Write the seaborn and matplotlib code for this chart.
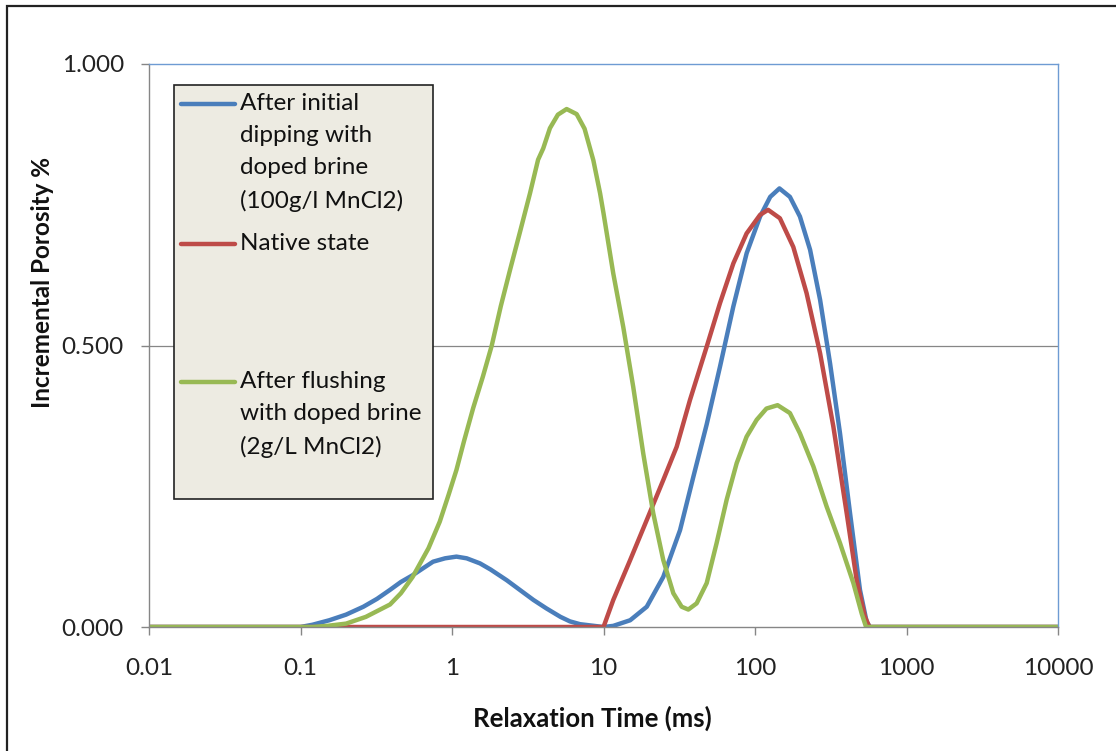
import matplotlib
matplotlib.use("Agg")
import matplotlib.pyplot as plt
from matplotlib.patches import Rectangle
from matplotlib.lines import Line2D
import seaborn as sns
import pandas as pd

# ---- data ----
blue_x = [0.01, 0.1, 0.12, 0.155, 0.2, 0.26, 0.32, 0.39, 0.46, 0.55, 0.65, 0.75, 0.9, 1.07,
          1.25, 1.53, 1.8, 2.3, 2.8, 3.45, 4.2, 5.2, 6, 7, 10,
          11.6, 15, 19.3, 24.8, 32, 39.2, 48, 58.7, 71.9, 88.1, 108, 126, 145, 170, 198,
          231, 269, 313, 364, 424, 493, 546, 574, 1000, 10000]
blue_y = [0, 0, 0.004, 0.012, 0.022, 0.036, 0.05, 0.066, 0.08, 0.092, 0.105, 0.116, 0.122,
          0.125, 0.122, 0.113, 0.102, 0.083, 0.066, 0.048, 0.033, 0.018, 0.01, 0.005, 0,
          0.002, 0.012, 0.036, 0.089, 0.172, 0.267, 0.36, 0.462, 0.569, 0.664, 0.729, 0.764,
          0.779, 0.764, 0.729, 0.670, 0.581, 0.468, 0.344, 0.202, 0.066, 0.009, 0, 0, 0]

red_x = [0.01, 0.2, 1, 10, 11.6, 15, 19.3, 24.8, 30.4, 37.2, 48, 58.7, 72, 88, 108, 122,
         146, 179, 219, 269, 329, 403, 469, 532, 569, 1000, 10000]
red_y = [0, 0, 0, 0, 0.048, 0.119, 0.19, 0.261, 0.32, 0.403, 0.498, 0.575, 0.646, 0.699,
         0.732, 0.741, 0.726, 0.675, 0.593, 0.486, 0.356, 0.202, 0.083, 0.018, 0, 0, 0]

green_x = [0.01, 0.12, 0.15, 0.2, 0.27, 0.33, 0.39, 0.46, 0.55, 0.7, 0.83, 0.95, 1.07, 1.2,
           1.38, 1.6, 1.83, 2.1, 2.42, 2.8, 3.27, 3.7, 4.0, 4.43, 5.0, 5.71, 6.65, 7.5,
           8.57, 9.5, 10, 11.6, 13.5, 15.7, 18.3, 21.3, 24.8, 28.9, 32.8, 36.3, 41.2, 48,
           55.8, 65, 75.7, 88, 102.6, 119, 141, 170, 198, 243, 297, 364, 446, 506, 541,
           1000, 10000]
green_y = [0, 0, 0.002, 0.006, 0.018, 0.03, 0.040, 0.06, 0.089, 0.14, 0.187, 0.235, 0.279,
           0.33, 0.389, 0.445, 0.50, 0.57, 0.635, 0.70, 0.770, 0.83, 0.85, 0.886, 0.91,
           0.92, 0.911, 0.885, 0.829, 0.77, 0.735, 0.628, 0.533, 0.427, 0.308, 0.202,
           0.119, 0.06, 0.036, 0.031, 0.042, 0.078, 0.149, 0.226, 0.291, 0.338, 0.368,
           0.388, 0.394, 0.38, 0.344, 0.285, 0.214, 0.149, 0.078, 0.024, 0, 0, 0]

labels = ["After initial\ndipping with\ndoped brine\n(100g/l MnCl2)",
          "Native state",
          "After flushing\nwith doped brine\n(2g/L MnCl2)"]
x_ticks = [0.01, 0.1, 1, 10, 100, 1000, 10000]
x_tick_labels = ["0.01", "0.1", "1", "10", "100", "1000", "10000"]
y_ticks = [0.0, 0.5, 1.0]
y_tick_labels = ["0.000", "0.500", "1.000"]

colors = ["#4A7EBB", "#BE4B48", "#98B954"]

sns.set_theme(style="white")
plt.rcParams["font.family"] = ["Lato", "DejaVu Sans"]

W, H = 1116, 751
fig = plt.figure(figsize=(W / 100, H / 100), dpi=100)
ax = fig.add_axes([149 / W, 1 - 627 / H, (1058 - 149) / W, (627 - 64) / H])

series = [(blue_x, blue_y), (red_x, red_y), (green_x, green_y)]
for (xs, ys), c in zip(series, colors):
    df = pd.DataFrame({"x": xs, "y": ys})
    sns.lineplot(data=df, x="x", y="y", color=c, linewidth=3.2, ax=ax,
                 legend=False, estimator=None, solid_capstyle="round",
                 solid_joinstyle="round")

ax.set_xscale("log")
ax.set_xlim(0.01, 10000)
ax.set_ylim(0, 1.0)
ax.set_xticks(x_ticks)
ax.set_xticklabels(x_tick_labels)
ax.minorticks_off()
ax.set_yticks(y_ticks)
ax.set_yticklabels(y_tick_labels)

ax.axhline(0.5, color="#868686", lw=0.9, zorder=0)

for s in ["left", "bottom"]:
    ax.spines[s].set_color("#868686")
    ax.spines[s].set_linewidth(1.0)
for s in ["top", "right"]:
    ax.spines[s].set_color("#6E9BD3")
    ax.spines[s].set_linewidth(1.0)

ax.tick_params(axis="x", direction="out", length=6, width=1.0, color="#868686",
               pad=16, labelsize=17.5, labelcolor="#222222", bottom=True)
ax.tick_params(axis="y", direction="out", length=6, width=1.0, color="#868686",
               pad=12, labelsize=17.5, labelcolor="#222222", left=True)

ax.set_xlabel("Relaxation Time (ms)", fontsize=18.5, fontweight="bold", color="#111111")
ax.set_ylabel("Incremental Porosity %", fontsize=17.5, fontweight="bold", color="#111111")
ax.xaxis.set_label_coords((592 - 149) / 909, (627 - 718) / 563)
ax.xaxis.label.set_verticalalignment("center")
ax.yaxis.set_label_coords((43 - 149) / 909, (627 - 282) / 563)
ax.yaxis.label.set_verticalalignment("center")

# ---- legend box (drawn like the reference's free-floating legend) ----
def fx(px):
    return px / W

def fy(py):
    return 1 - py / H

fig.patches.append(Rectangle((fx(174), fy(499)), fx(433) - fx(174), fy(85) - fy(499),
                             transform=fig.transFigure, facecolor="#EDEBE2",
                             edgecolor="#222222", linewidth=1.2, zorder=5))
entry_y = [104, 244, 382]
for lab, c, yy in zip(labels, colors, entry_y):
    fig.add_artist(Line2D([fx(181), fx(235)], [fy(yy), fy(yy)], color=c,
                          linewidth=3.2, solid_capstyle="round",
                          transform=fig.transFigure, zorder=6))
    fig.text(fx(240), fy(yy - 11), lab, ha="left", va="top", fontsize=17.5,
             color="#111111", linespacing=1.66, zorder=7)

# ---- outer figure border ----
fig.patches.append(Rectangle((fx(7), -0.2), 1.3, fy(6) + 0.2, transform=fig.transFigure,
                             facecolor="none", edgecolor="#222222", linewidth=1.6,
                             zorder=10))

fig.savefig("out.png", dpi=100)
